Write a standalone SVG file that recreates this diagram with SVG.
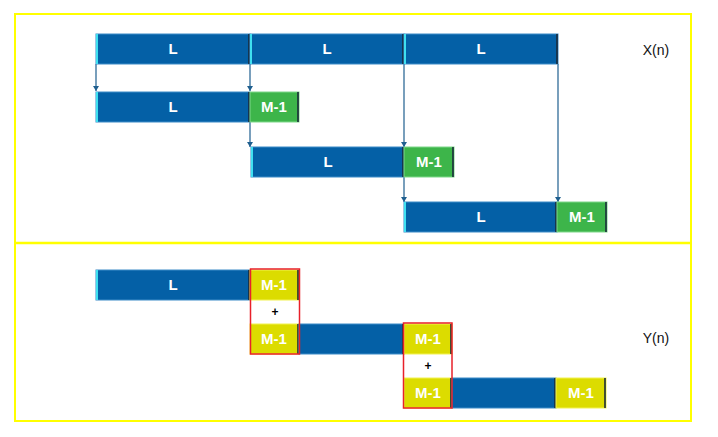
<svg xmlns="http://www.w3.org/2000/svg" width="718" height="437" viewBox="0 0 718 437">
<defs>
<style>
.blue{fill:#0460A6;stroke:#3C8CC8;stroke-width:1}
.green{fill:#3DB54A;stroke:#7FD88A;stroke-width:1}
.yel{fill:#DCDC00;stroke:#F2F250;stroke-width:1}
.hl{fill:#3FE0F0}
.sh{fill:#1A2A3A;opacity:0.8}
.lbl{font-family:"Liberation Sans",Arial,sans-serif;font-weight:bold;font-size:15px;fill:#FFFFFF;text-anchor:middle}
.plus{font-family:"Liberation Sans",Arial,sans-serif;font-weight:bold;font-size:12px;fill:#000;text-anchor:middle}
.side{font-family:"Liberation Sans",Arial,sans-serif;font-size:14px;fill:#111;text-anchor:middle}
.conn{stroke:#1F5F8F;stroke-width:1.2;fill:none}
.red{fill:none;stroke:#E8202A;stroke-width:1.5}
</style>
<marker id="ad" markerWidth="8" markerHeight="8" refX="4" refY="7" orient="0" markerUnits="userSpaceOnUse" viewBox="0 0 8 8">
<path d="M1,2 L4,7 L7,2 Z" fill="#1F5F8F"/>
</marker>
</defs>
<rect x="0" y="0" width="718" height="437" fill="#FFFFFF"/>
<g id="frame">
<rect x="15" y="14" width="676" height="407" fill="none" stroke="#FFFF00" stroke-width="2"/>
<line x1="15" y1="243" x2="691" y2="243" stroke="#FFFF00" stroke-width="2.5"/>
</g>
<g id="connectors">
<line class="conn" x1="96" y1="64" x2="96" y2="91" marker-end="url(#ad)"/>
<line class="conn" x1="250" y1="64" x2="250" y2="91" marker-end="url(#ad)"/>
<line class="conn" x1="250" y1="121" x2="250" y2="147" marker-end="url(#ad)"/>
<line class="conn" x1="404" y1="64" x2="404" y2="147" marker-end="url(#ad)"/>
<line class="conn" x1="404" y1="177" x2="404" y2="202" marker-end="url(#ad)"/>
<line class="conn" x1="558" y1="64" x2="558" y2="202" marker-end="url(#ad)"/>
</g>
<g id="x-row1">
<rect class="blue" x="96" y="34" width="154" height="30"/><rect class="hl" x="96" y="34" width="2" height="30"/><rect class="sh" x="248" y="34" width="2" height="30"/>
<text class="lbl" x="173" y="54">L</text>
<rect class="blue" x="250" y="34" width="154" height="30"/><rect class="hl" x="250" y="34" width="2" height="30"/><rect class="sh" x="402" y="34" width="2" height="30"/>
<text class="lbl" x="327" y="54">L</text>
<rect class="blue" x="404" y="34" width="154" height="30"/><rect class="hl" x="404" y="34" width="2" height="30"/><rect class="sh" x="556" y="34" width="2" height="30"/>
<text class="lbl" x="481" y="54">L</text>
</g>
<g id="x-label"><text class="side" x="656" y="55">X(n)</text></g>
<g id="x-row2">
<rect class="blue" x="96" y="92" width="154" height="30"/><rect class="hl" x="96" y="92" width="2" height="30"/><rect class="sh" x="248" y="92" width="2" height="30"/>
<text class="lbl" x="173" y="112">L</text>
<rect class="green" x="250" y="92" width="49" height="30"/><rect class="sh" x="297" y="92" width="2" height="30"/>
<text class="lbl" x="274" y="112">M-1</text>
</g>
<g id="x-row3">
<rect class="blue" x="251" y="147" width="153" height="30"/><rect class="hl" x="251" y="147" width="2" height="30"/><rect class="sh" x="402" y="147" width="2" height="30"/>
<text class="lbl" x="328" y="167">L</text>
<rect class="green" x="404" y="147" width="50" height="30"/><rect class="sh" x="452" y="147" width="2" height="30"/>
<text class="lbl" x="429" y="167">M-1</text>
</g>
<g id="x-row4">
<rect class="blue" x="404" y="202" width="153" height="30"/><rect class="hl" x="404" y="202" width="2" height="30"/><rect class="sh" x="555" y="202" width="2" height="30"/>
<text class="lbl" x="481" y="222">L</text>
<rect class="green" x="557" y="202" width="50" height="30"/><rect class="sh" x="605" y="202" width="2" height="30"/>
<text class="lbl" x="582" y="222">M-1</text>
</g>
<g id="y-row1">
<rect class="blue" x="96" y="270" width="154" height="30"/><rect class="hl" x="96" y="270" width="2" height="30"/><rect class="sh" x="248" y="270" width="2" height="30"/>
<text class="lbl" x="173" y="290">L</text>
<rect class="yel" x="250" y="270" width="49" height="30"/><rect class="sh" x="297" y="270" width="2" height="30"/>
<text class="lbl" x="274" y="290">M-1</text>
</g>
<g id="y-row2">
<rect class="yel" x="250" y="324" width="49" height="30"/><rect class="sh" x="297" y="324" width="2" height="30"/>
<text class="lbl" x="274" y="344">M-1</text>
<rect class="blue" x="299" y="324" width="105" height="30"/><rect class="sh" x="402" y="324" width="2" height="30"/>
<rect class="yel" x="404" y="324" width="48" height="30"/><rect class="sh" x="450" y="324" width="2" height="30"/>
<text class="lbl" x="428" y="344">M-1</text>
</g>
<g id="y-row3">
<rect class="yel" x="404" y="378" width="48" height="30"/><rect class="sh" x="450" y="378" width="2" height="30"/>
<text class="lbl" x="428" y="398">M-1</text>
<rect class="blue" x="452" y="378" width="104" height="30"/><rect class="sh" x="554" y="378" width="2" height="30"/>
<rect class="yel" x="556" y="378" width="50" height="30"/><rect class="sh" x="604" y="378" width="2" height="30"/>
<text class="lbl" x="581" y="398">M-1</text>
</g>
<g id="sum1">
<rect class="red" x="250.5" y="269" width="49" height="85"/>
<text class="plus" x="275" y="316">+</text>
</g>
<g id="sum2">
<rect class="red" x="403.5" y="323" width="48.5" height="85"/>
<text class="plus" x="428" y="370">+</text>
</g>
<g id="y-label"><text class="side" x="656" y="343">Y(n)</text></g>
</svg>
